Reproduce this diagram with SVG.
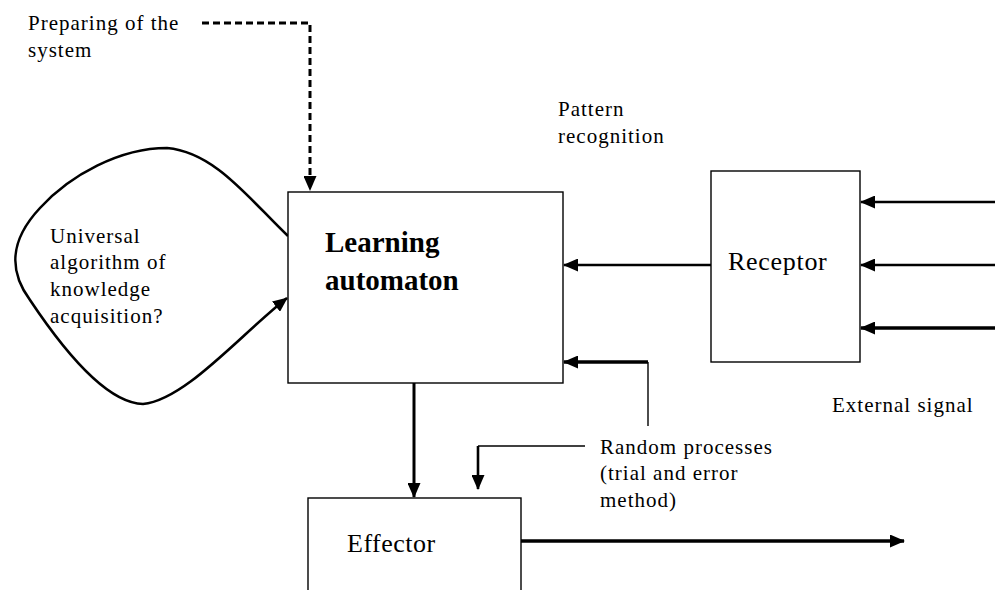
<svg xmlns="http://www.w3.org/2000/svg" width="995" height="590" viewBox="0 0 995 590">
<style>
.s{font-size:21px;letter-spacing:1px}
.box{fill:#fff;stroke:#000;stroke-width:1.4}
.a{fill:none;stroke:#000;stroke-width:2.6}
.t{fill:none;stroke:#000;stroke-width:1.4}
</style>
<defs>
<marker id="ah2" markerWidth="15" markerHeight="13" refX="14" refY="6.5" orient="auto" markerUnits="userSpaceOnUse">
<path d="M0,0 L15,6.5 L0,13 z" fill="#000"/>
</marker>
</defs>
<rect width="995" height="590" fill="#fff"/>
<g id="connectors">
<path d="M202,23 H310 V190" fill="none" stroke="#000" stroke-width="3" stroke-dasharray="7,4" marker-end="url(#ah2)"/>
<path d="M288,236 C250,200 215,152 167,148 C120,148 70,175 40,208 C10,240 8,270 30,300 C60,345 105,403 143,404 C185,400 240,335 287,298" class="a" marker-end="url(#ah2)"/>
<path d="M995,202 H861" class="a" marker-end="url(#ah2)"/>
<path d="M995,265 H861" class="a" marker-end="url(#ah2)"/>
<path d="M995,328 H861" fill="none" stroke="#000" stroke-width="3.5" marker-end="url(#ah2)"/>
<path d="M711,265 H564" class="a" marker-end="url(#ah2)"/>
<path d="M648,426 V362" class="t"/>
<path d="M648,362 H564" fill="none" stroke="#000" stroke-width="3.5" marker-end="url(#ah2)"/>
<path d="M585,446 H478" class="t"/>
<path d="M478,446 V489" class="a" marker-end="url(#ah2)"/>
<path d="M414,383 V497" fill="none" stroke="#000" stroke-width="3" marker-end="url(#ah2)"/>
<path d="M521,541 H904" fill="none" stroke="#000" stroke-width="3.5" marker-end="url(#ah2)"/>
</g>
<g font-family="Liberation Serif, serif" fill="#000">
<g id="learning">
<rect class="box" x="288" y="192" width="275" height="191"/>
<text x="325" y="252" font-size="29" font-weight="bold">Learning</text>
<text x="325" y="290" font-size="29" font-weight="bold">automaton</text>
</g>
<g id="receptor">
<rect class="box" x="711" y="171" width="149" height="191"/>
<text x="728" y="270" font-size="26" letter-spacing="0.7">Receptor</text>
</g>
<g id="effector">
<rect class="box" x="308" y="498" width="213" height="110"/>
<text x="347" y="552" font-size="26" letter-spacing="0.5">Effector</text>
</g>
<g id="labels">
<text class="s" x="28" y="30">Preparing of the</text>
<text class="s" x="28" y="57">system</text>
<text class="s" x="50" y="243">Universal</text>
<text class="s" x="50" y="269">algorithm of</text>
<text class="s" x="50" y="296">knowledge</text>
<text class="s" x="50" y="323">acquisition?</text>
<text class="s" x="558" y="116">Pattern</text>
<text class="s" x="558" y="143">recognition</text>
<text class="s" x="832" y="412">External signal</text>
<text class="s" x="600" y="454">Random processes</text>
<text class="s" x="600" y="480">(trial and error</text>
<text class="s" x="600" y="507">method)</text>
</g>
</g>
</svg>
